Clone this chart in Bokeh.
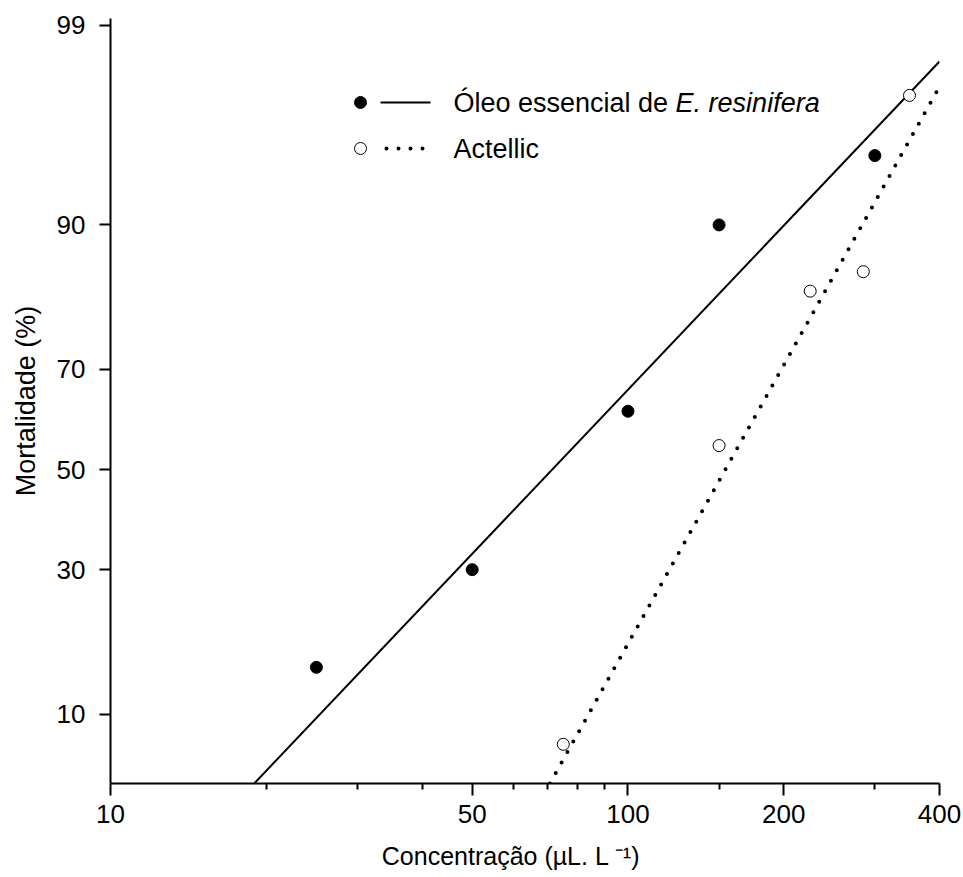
import math
from statistics import NormalDist

from bokeh.embed import file_html
from bokeh.models import CustomJSTickFormatter, FixedTicker, Label
from bokeh.plotting import figure
from bokeh.resources import INLINE

# Mortality of the test insects versus concentration (µL/L)
conc_oil = [25, 50, 100, 150, 300]
mort_oil = [15, 30, 62, 90, 95]
conc_act = [75, 150, 225, 285, 350]
mort_act = [7.5, 55, 82.5, 85, 97.5]

# Fitted probit regressions: probit = slope * log10(conc) + intercept
probit_slope = [2.856, 4.849]
probit_intercept = [-5.294, -10.611]

x_ticks = [10, 50, 100, 200, 400]
x_minor_ticks = [20, 30, 40, 60, 70, 80, 90, 150, 300]
y_ticks_pct = [10, 30, 50, 70, 90, 99]

FONT = "Liberation Sans"
nd = NormalDist()


def probit(pct):
    return nd.inv_cdf(pct / 100.0)


X_MIN, X_MAX = 10, 400
Z_MIN, Z_MAX = probit(5), 2.363

# frame geometry in canvas pixels (used to place the legend)
FL, FR, FT, FB = 110, 939, 18, 783


def px_x(px):
    lo, hi = math.log10(X_MIN), math.log10(X_MAX)
    return 10 ** (lo + (px - FL) / (FR - FL) * (hi - lo))


def px_y(py):
    return Z_MAX - (py - FT) / (FB - FT) * (Z_MAX - Z_MIN)


p = figure(
    width=963, height=877,
    x_axis_type="log",
    x_range=(X_MIN, X_MAX), y_range=(Z_MIN, Z_MAX),
    output_backend="svg", toolbar_location=None,
    min_border_left=FL, min_border_right=963 - FR,
    min_border_top=FT, min_border_bottom=877 - FB,
)
p.outline_line_color = None
p.grid.visible = False
p.background_fill_color = "white"
p.border_fill_color = "white"

# x axis (log)
xa = p.xaxis[0]
xa.ticker = FixedTicker(ticks=x_ticks, minor_ticks=x_minor_ticks)
xa.major_label_overrides = {t: str(t) for t in x_ticks}
xa.axis_line_width = 2
xa.major_tick_line_width = 2
xa.minor_tick_line_width = 2
xa.major_tick_in = 0
xa.major_tick_out = 12
xa.minor_tick_in = 0
xa.minor_tick_out = 6
xa.major_label_standoff = 9
xa.major_label_text_font = FONT
xa.major_label_text_font_size = "26px"
xa.major_label_text_color = "black"
# trailing no-break spaces nudge the centred title a little to the left
xa.axis_label = "Concentração (µL. L \u207b\u00b9)" + "\u00a0" * 4
xa.axis_label_text_font = FONT
xa.axis_label_text_font_size = "25px"
xa.axis_label_text_font_style = "normal"
xa.axis_label_text_color = "black"
xa.axis_label_standoff = 16

# y axis (probit)
ya = p.yaxis[0]
z_ticks = [probit(v) for v in y_ticks_pct]
ya.ticker = FixedTicker(ticks=z_ticks, minor_ticks=[])
ya.formatter = CustomJSTickFormatter(
    args=dict(zs=z_ticks, labels=[str(v) for v in y_ticks_pct]),
    code="""
        for (let i = 0; i < zs.length; i++) {
            if (Math.abs(tick - zs[i]) < 1e-6) return labels[i];
        }
        return "";
    """,
)
ya.axis_line_width = 2
ya.major_tick_line_width = 2
ya.major_tick_in = 0
ya.major_tick_out = 11
ya.minor_tick_out = 0
ya.major_label_standoff = 14
ya.major_label_text_font = FONT
ya.major_label_text_font_size = "26px"
ya.major_label_text_color = "black"
ya.axis_label = "Mortalidade (%)"
ya.axis_label_text_font = FONT
ya.axis_label_text_font_size = "27px"
ya.axis_label_text_font_style = "normal"
ya.axis_label_text_color = "black"
ya.axis_label_standoff = 13

# regression lines, from the bottom of the probit axis up to the top concentration
line_styles = [dict(line_width=2), dict(line_width=4, line_dash="0 12", line_cap="round")]
for m, b, style in zip(probit_slope, probit_intercept, line_styles):
    lx0 = (Z_MIN - b) / m
    lx1 = math.log10(X_MAX)
    xs = [10 ** lx0, 10 ** lx1]
    ys = [m * lx0 + b, m * lx1 + b]
    p.line(xs, ys, line_color="black", **style)

# observed points
p.scatter(conc_oil, [probit(v) for v in mort_oil], size=12,
          fill_color="black", line_color="black")
p.scatter(conc_act, [probit(v) for v in mort_act], size=12,
          fill_color="white", line_color="black", line_width=1)

# legend
p.scatter([px_x(360)], [px_y(102)], size=12, fill_color="black", line_color="black")
p.line([px_x(380), px_x(430)], [px_y(102)] * 2, line_color="black", line_width=2)
p.scatter([px_x(360)], [px_y(148)], size=12, fill_color="white", line_color="black")
p.line([px_x(386), px_x(430)], [px_y(148)] * 2, line_color="black",
       line_width=4, line_dash="0 12", line_cap="round")

LEG_SIZE = 27
legend_font = dict(text_font=FONT, text_font_size=f"{LEG_SIZE}px", text_color="black",
                   text_baseline="middle", x_units="data", y_units="data")
p.add_layout(Label(x=px_x(453), y=px_y(102), text="Óleo essencial de ", **legend_font))
p.add_layout(Label(x=px_x(453 + 8.226 * LEG_SIZE), y=px_y(102), text="E. resinifera",
                   text_font_style="italic", **legend_font))
p.add_layout(Label(x=px_x(453), y=px_y(148), text="Actellic", **legend_font))

open("out.html", "w").write(file_html(p, INLINE))
